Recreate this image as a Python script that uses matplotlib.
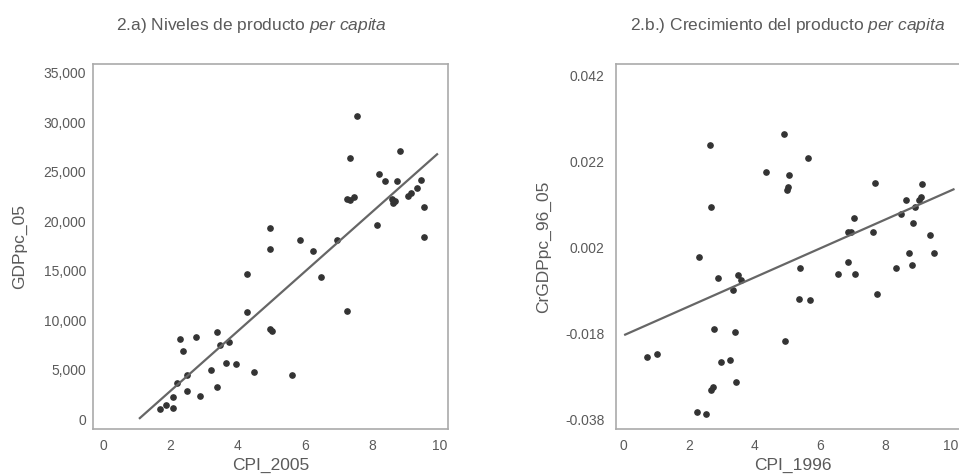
import numpy as np
import matplotlib
matplotlib.use('Agg')
import matplotlib.pyplot as plt
from matplotlib.ticker import StrMethodFormatter

# Fonts: Arial-like, with italic "per capita" via mathtext
plt.rcParams['font.family'] = ['Liberation Sans', 'DejaVu Sans']
plt.rcParams['mathtext.fontset'] = 'custom'
plt.rcParams['mathtext.rm'] = 'Liberation Sans'
plt.rcParams['mathtext.it'] = 'Liberation Sans:italic'
plt.rcParams['axes.unicode_minus'] = False

# --- Panel 2.a data (CPI 2005 vs GDP per capita 2005) ---
cpi_2005 = [1.68, 1.88, 2.08, 2.08, 2.18, 2.28, 2.38, 2.48, 2.48, 2.77,
            2.87, 3.19, 3.37, 3.37, 3.47, 3.74, 3.66, 3.96, 4.26, 4.26,
            4.48, 4.95, 4.95, 4.97, 5.03, 5.62, 5.84, 6.24, 6.46, 6.95,
            7.25, 7.33, 7.23, 7.33, 7.45, 7.54, 8.14, 8.20, 8.37, 8.59,
            8.61, 8.66, 8.73, 8.81, 9.06, 9.16, 9.31, 9.43, 9.52, 9.52]
gdppc_05 = [1010, 1450, 1100, 2200, 3640, 8100, 6840, 4480, 2800, 8260,
            2360, 4920, 8830, 3240, 7520, 7750, 5660, 5560, 14670, 10860,
            4720, 19320, 17200, 9100, 8930, 4480, 18140, 16960, 14360, 18140,
            10960, 26400, 22290, 22190, 22500, 30680, 19660, 24800, 24100, 22250,
            21850, 22080, 24100, 27140, 22590, 22860, 23370, 24140, 21410, 18380]
# fitted line: slope, intercept and x span
fit_a = (3020.0, -3190.0)
fit_a_x = [1.09, 9.92]

# --- Panel 2.b data (CPI 1996 vs growth of GDP per capita 96-05) ---
cpi_1996 = [0.72, 1.03, 2.24, 2.52, 2.32, 2.63, 2.68, 2.75, 2.88, 2.98,
            3.24, 2.68, 2.73, 3.34, 3.39, 3.44, 3.49, 3.59, 4.34, 4.89,
            4.92, 5.05, 5.02, 4.99, 5.35, 5.40, 5.63, 5.71, 6.56, 6.85,
            6.85, 6.95, 7.05, 7.07, 7.61, 7.69, 7.73, 8.33, 8.48, 8.63,
            8.73, 8.81, 8.83, 8.89, 9.02, 9.09, 9.11, 9.36, 9.48]
crgdppc_96_05 = [-0.0234, -0.0228, -0.0364, -0.0368, -0.0002, 0.0259, 0.0115, -0.0169, -0.0052, -0.0247,
                 -0.0241, -0.0313, -0.0304, -0.0078, -0.0177, -0.0294, -0.0045, -0.0055, 0.0195, 0.0284,
                 -0.0197, 0.0189, 0.0160, 0.0154, -0.0099, -0.0028, 0.0228, -0.0102, -0.0042, -0.0013,
                 0.0057, 0.0057, 0.0089, -0.0042, 0.0057, 0.0171, -0.0088, -0.0028, 0.0099, 0.0131,
                 0.0008, -0.0021, 0.0078, 0.0115, 0.0131, 0.0138, 0.0167, 0.0050, 0.0008]
fit_b = (0.003376, -0.01847)
fit_b_x = [0.05, 10.08]

x_ticks = [0, 2, 4, 6, 8, 10]
gdp_ticks = [0, 5000, 10000, 15000, 20000, 25000, 30000, 35000]
growth_ticks = [-0.038, -0.018, 0.002, 0.022, 0.042]

text_col = '#5a5a5a'
frame_col = '#aaaaaa'
dot_col = '#333333'

fig = plt.figure(figsize=(9.59, 4.76), dpi=100)
ax1 = fig.add_axes([0.097, 0.0987, 0.370, 0.767])
ax2 = fig.add_axes([0.642, 0.0987, 0.370, 0.767])


def style(ax):
    for s in ax.spines.values():
        s.set_color(frame_col)
        s.set_linewidth(1.2)
    ax.tick_params(length=0, labelsize=10, colors=text_col)
    ax.tick_params(axis='x', pad=7)
    ax.tick_params(axis='y', pad=5)


# Panel a
ax1.plot(cpi_2005, gdppc_05, 'o', ms=3.8, color=dot_col, mec=dot_col)
xa = np.array(fit_a_x)
ax1.plot(xa, fit_a[0] * xa + fit_a[1], color='#666666', lw=1.6)
ax1.set_xlim(-0.3, 10.24)
ax1.set_ylim(-1000, 35900)
ax1.set_xticks(x_ticks)
ax1.set_yticks(gdp_ticks)
ax1.yaxis.set_major_formatter(StrMethodFormatter('{x:,.0f}'))
ax1.set_xlabel('CPI_2005', fontsize=12.5, color=text_col, labelpad=4)
ax1.set_ylabel('GDPpc_05', fontsize=12.5, color=text_col, labelpad=12)
style(ax1)

# Panel b
ax2.plot(cpi_1996, crgdppc_96_05, 'o', ms=3.8, color=dot_col, mec=dot_col)
xb = np.array(fit_b_x)
ax2.plot(xb, fit_b[0] * xb + fit_b[1], color='#666666', lw=1.6)
ax2.set_xlim(-0.24, 10.6)
ax2.set_ylim(-0.0403, 0.0448)
ax2.set_xticks(x_ticks)
ax2.set_yticks(growth_ticks)
ax2.yaxis.set_major_formatter(StrMethodFormatter('{x:.3f}'))
ax2.set_xlabel('CPI_1996', fontsize=12.5, color=text_col, labelpad=4)
ax2.set_ylabel('CrGDPpc_96_05', fontsize=12.5, color=text_col, labelpad=10)
style(ax2)
ax2.tick_params(axis='y', pad=8)

fig.text(0.262, 0.947, r'2.a) Niveles de producto $\mathit{per\ capita}$',
         ha='center', va='center', fontsize=12.5, color=text_col)
fig.text(0.821, 0.947, r'2.b.) Crecimiento del producto $\mathit{per\ capita}$',
         ha='center', va='center', fontsize=12.5, color=text_col)

fig.savefig('out.png', dpi=100)
